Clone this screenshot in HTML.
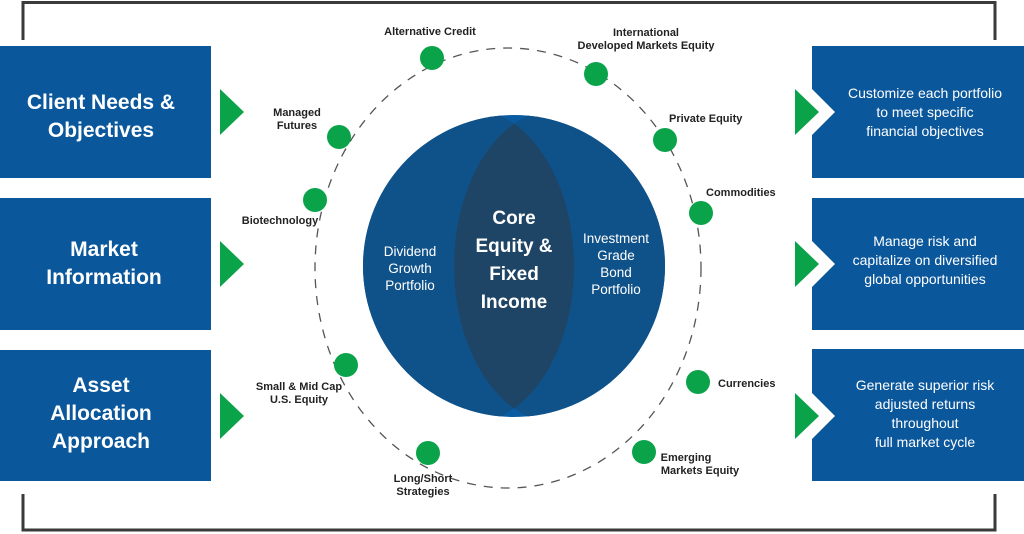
<!DOCTYPE html>
<html><head><meta charset="utf-8"><style>
html,body{margin:0;padding:0;background:#fff;}
svg{display:block}
text{font-family:"Liberation Sans",sans-serif;font-weight:bold;}
text.n{font-weight:normal;}
</style></head><body>
<svg width="1024" height="534" viewBox="0 0 1024 534" xmlns="http://www.w3.org/2000/svg">
<defs>
<clipPath id="cc"><circle cx="514" cy="266" r="151"/></clipPath>
<clipPath id="el"><ellipse cx="468" cy="266" rx="106" ry="158"/></clipPath>
</defs>
<path d="M23 40 V2.5 H995 V40" fill="none" stroke="#3a3a3a" stroke-width="3"/>
<path d="M23 494 V530 H995 V494" fill="none" stroke="#3a3a3a" stroke-width="3"/>
<ellipse cx="508" cy="268" rx="193" ry="220" fill="none" stroke="#555" stroke-width="1.3" stroke-dasharray="9 8"/>
<circle cx="514" cy="266" r="151" fill="#0a5ca2"/>
<g clip-path="url(#cc)">
<ellipse cx="468" cy="266" rx="106" ry="158" fill="#0f5189"/>
<ellipse cx="560" cy="266" rx="106" ry="158" fill="#0f5189"/>
<ellipse cx="560" cy="266" rx="106" ry="158" fill="#1f4566" clip-path="url(#el)"/>
</g>
<g fill="#fff" text-anchor="middle">
<text x="514" y="224" font-size="19">Core</text>
<text x="514" y="252" font-size="19">Equity &amp;</text>
<text x="514" y="280" font-size="19">Fixed</text>
<text x="514" y="308" font-size="19">Income</text>
<text class="n" x="410" y="256" font-size="13.5">Dividend</text>
<text class="n" x="410" y="273" font-size="13.5">Growth</text>
<text class="n" x="410" y="290" font-size="13.5">Portfolio</text>
<text class="n" x="616" y="243" font-size="13.5">Investment</text>
<text class="n" x="616" y="260" font-size="13.5">Grade</text>
<text class="n" x="616" y="277" font-size="13.5">Bond</text>
<text class="n" x="616" y="294" font-size="13.5">Portfolio</text>
</g>
<g fill="#0aa34a">
<circle cx="432" cy="58" r="12"/><circle cx="596" cy="74" r="12"/>
<circle cx="665" cy="140" r="12"/><circle cx="701" cy="213" r="12"/>
<circle cx="698" cy="382" r="12"/><circle cx="644" cy="452" r="12"/>
<circle cx="428" cy="453" r="12"/><circle cx="346" cy="365" r="12"/>
<circle cx="315" cy="200" r="12"/><circle cx="339" cy="137" r="12"/>
</g>
<g fill="#222" font-size="11">
<text x="430" y="35" text-anchor="middle">Alternative Credit</text>
<text x="646" y="36" text-anchor="middle">International</text>
<text x="646" y="49" text-anchor="middle">Developed Markets Equity</text>
<text x="669" y="122">Private Equity</text>
<text x="706" y="196">Commodities</text>
<text x="718" y="387">Currencies</text>
<text x="686" y="461" text-anchor="middle">Emerging</text>
<text x="700" y="474" text-anchor="middle">Markets Equity</text>
<text x="423" y="482" text-anchor="middle">Long/Short</text>
<text x="423" y="495" text-anchor="middle">Strategies</text>
<text x="299" y="390" text-anchor="middle">Small &amp; Mid Cap</text>
<text x="299" y="403" text-anchor="middle">U.S. Equity</text>
<text x="280" y="224" text-anchor="middle">Biotechnology</text>
<text x="297" y="116" text-anchor="middle">Managed</text>
<text x="297" y="129" text-anchor="middle">Futures</text>
</g>
<g fill="#0b579c">
<rect x="0" y="46" width="211" height="132"/>
<rect x="0" y="198" width="211" height="132"/>
<rect x="0" y="350" width="211" height="131"/>
</g>
<g fill="#0aa34a">
<polygon points="220,89 244,112 220,135"/>
<polygon points="220,241 244,264 220,287"/>
<polygon points="220,393 244,416 220,439"/>
<polygon points="795,89 819,112 795,135"/>
<polygon points="795,241 819,264 795,287"/>
<polygon points="795,393 819,416 795,439"/>
</g>
<g fill="#fff" font-size="21" text-anchor="middle">
<text x="101" y="109">Client Needs &amp;</text>
<text x="101" y="137">Objectives</text>
<text x="104" y="256">Market</text>
<text x="104" y="284">Information</text>
<text x="101" y="392">Asset</text>
<text x="101" y="420">Allocation</text>
<text x="101" y="448">Approach</text>
</g>
<g fill="#0b579c">
<polygon points="812,46 1024,46 1024,178 812,178 812,135 835,112 812,89"/>
<polygon points="812,198 1024,198 1024,330 812,330 812,287 835,264 812,241"/>
<polygon points="812,349 1024,349 1024,481 812,481 812,439 835,416 812,393"/>
</g>
<g fill="#fff" font-size="14" text-anchor="middle">
<text class="n" x="925" y="98">Customize each portfolio</text>
<text class="n" x="925" y="117">to meet specific</text>
<text class="n" x="925" y="136">financial objectives</text>
<text class="n" x="925" y="246">Manage risk and</text>
<text class="n" x="925" y="265">capitalize on diversified</text>
<text class="n" x="925" y="284">global opportunities</text>
<text class="n" x="925" y="390">Generate superior risk</text>
<text class="n" x="925" y="409">adjusted returns</text>
<text class="n" x="925" y="428">throughout</text>
<text class="n" x="925" y="447">full market cycle</text>
</g>
</svg>
</body></html>
